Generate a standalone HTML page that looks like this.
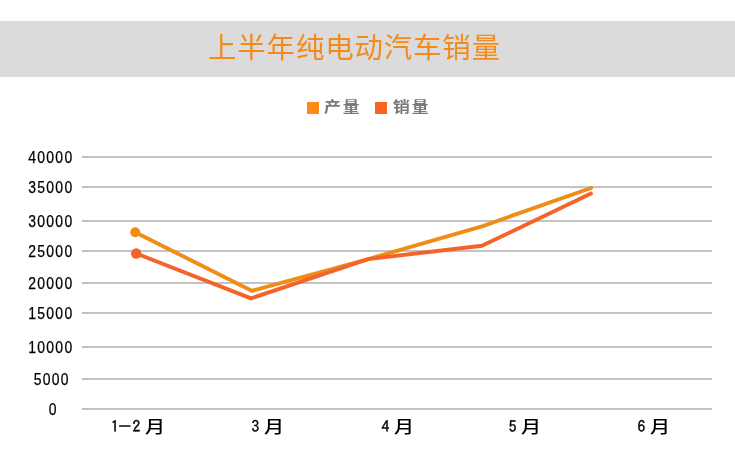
<!DOCTYPE html>
<html lang="zh-CN">
<head>
<meta charset="utf-8">
<title>上半年纯电动汽车销量</title>
<style>
html,body{margin:0;padding:0;background:#fff;}
body{width:735px;height:453px;position:relative;overflow:hidden;font-family:"Liberation Sans","Noto Sans CJK SC",sans-serif;}
.bar{position:absolute;left:0;top:21px;width:735px;height:55.7px;background:#dbdbdb;}
.title{position:absolute;left:-13px;top:21px;width:735px;letter-spacing:0.9px;height:55px;line-height:55px;text-align:center;color:#f28a1e;font-size:28.4px;font-weight:400;font-family:"Liberation Sans","Noto Sans CJK SC",sans-serif;white-space:nowrap;}
.lg{position:absolute;top:101.6px;width:12.6px;height:12.6px;}
.lt{position:absolute;top:95px;height:24px;line-height:24px;font-size:14.5px;font-weight:700;color:#787878;letter-spacing:1.7px;transform:scaleX(1.16);transform-origin:left center;white-space:nowrap;font-family:"Liberation Sans","Noto Sans CJK SC",sans-serif;}
.yl{position:absolute;left:11px;width:80px;height:20px;line-height:20px;margin-top:0px;text-align:center;font-size:16px;color:#000;white-space:nowrap;}
.yl span{display:inline-block;-webkit-text-stroke:0.25px #000;transform:translateY(0.5px) scaleX(0.87);letter-spacing:1.45px;}
.xd{position:absolute;top:414px;height:24px;line-height:24px;white-space:nowrap;color:#000;font-size:15.5px;font-family:IPAGothic,"Liberation Sans",sans-serif;letter-spacing:3px;-webkit-text-stroke:0.4px #000;}
.xd i{font-style:normal;display:inline-block;transform:scaleX(1.7);}
.xm{position:absolute;top:415.5px;height:24px;line-height:24px;white-space:nowrap;color:#000;font-weight:500;font-size:17px;font-family:"Liberation Sans","Noto Sans CJK SC",sans-serif;transform:scaleX(1.18);transform-origin:left center;}
svg{position:absolute;left:0;top:0;}
</style>
</head>
<body>
<div class="bar"></div>
<div class="title">上半年纯电动汽车销量</div>

<div class="lg" style="left:306.8px;background:#fb8b14;"></div>
<div class="lt" style="left:324px;">产量</div>
<div class="lg" style="left:374.8px;background:#f9621f;"></div>
<div class="lt" style="left:393px;">销量</div>

<svg width="735" height="453" viewBox="0 0 735 453">
  <g stroke="#c3c3c3" stroke-width="1.9" fill="none">
    <line x1="82" y1="157" x2="712" y2="157"/>
    <line x1="82" y1="187" x2="712" y2="187"/>
    <line x1="82" y1="221" x2="712" y2="221"/>
    <line x1="82" y1="251" x2="712" y2="251"/>
    <line x1="82" y1="283" x2="712" y2="283"/>
    <line x1="82" y1="313" x2="712" y2="313"/>
    <line x1="82" y1="347" x2="712" y2="347"/>
    <line x1="82" y1="379" x2="712" y2="379"/>
    <line x1="82" y1="409" x2="712" y2="409"/>
  </g>
  <polyline points="135.2,232.2 251.7,290.8 367.5,259.3 482,226.3 591,188" fill="none" stroke="#f08d17" stroke-width="3.9" stroke-linejoin="round" stroke-linecap="round"/>
  <polyline points="136.2,253.5 251,298.4 368,259.1 482,245.8 591,193.5" fill="none" stroke="#f4642a" stroke-width="3.9" stroke-linejoin="round" stroke-linecap="round"/>
  <circle cx="136.2" cy="253.5" r="5.2" fill="#f4642a"/>
  <circle cx="135.2" cy="232.2" r="5" fill="#f08d17"/>
</svg>

<div class="yl" style="top:147px;"><span>40000</span></div>
<div class="yl" style="top:177px;"><span>35000</span></div>
<div class="yl" style="top:211px;"><span>30000</span></div>
<div class="yl" style="top:241px;"><span>25000</span></div>
<div class="yl" style="top:273px;"><span>20000</span></div>
<div class="yl" style="top:303px;"><span>15000</span></div>
<div class="yl" style="top:337px;"><span>10000</span></div>
<div class="yl" style="top:369px;left:12px;"><span>5000</span></div>
<div class="yl" style="top:399px;left:13px;"><span>0</span></div>

<div class="xd" style="left:110.9px;">1<i>-</i>2</div><div class="xm" style="left:145px;">月</div>
<div class="xd" style="left:251.4px;">3</div><div class="xm" style="left:264px;">月</div>
<div class="xd" style="left:381.6px;">4</div><div class="xm" style="left:394.3px;">月</div>
<div class="xd" style="left:508.7px;">5</div><div class="xm" style="left:520.8px;">月</div>
<div class="xd" style="left:637.6px;">6</div><div class="xm" style="left:650.2px;">月</div>
</body>
</html>
